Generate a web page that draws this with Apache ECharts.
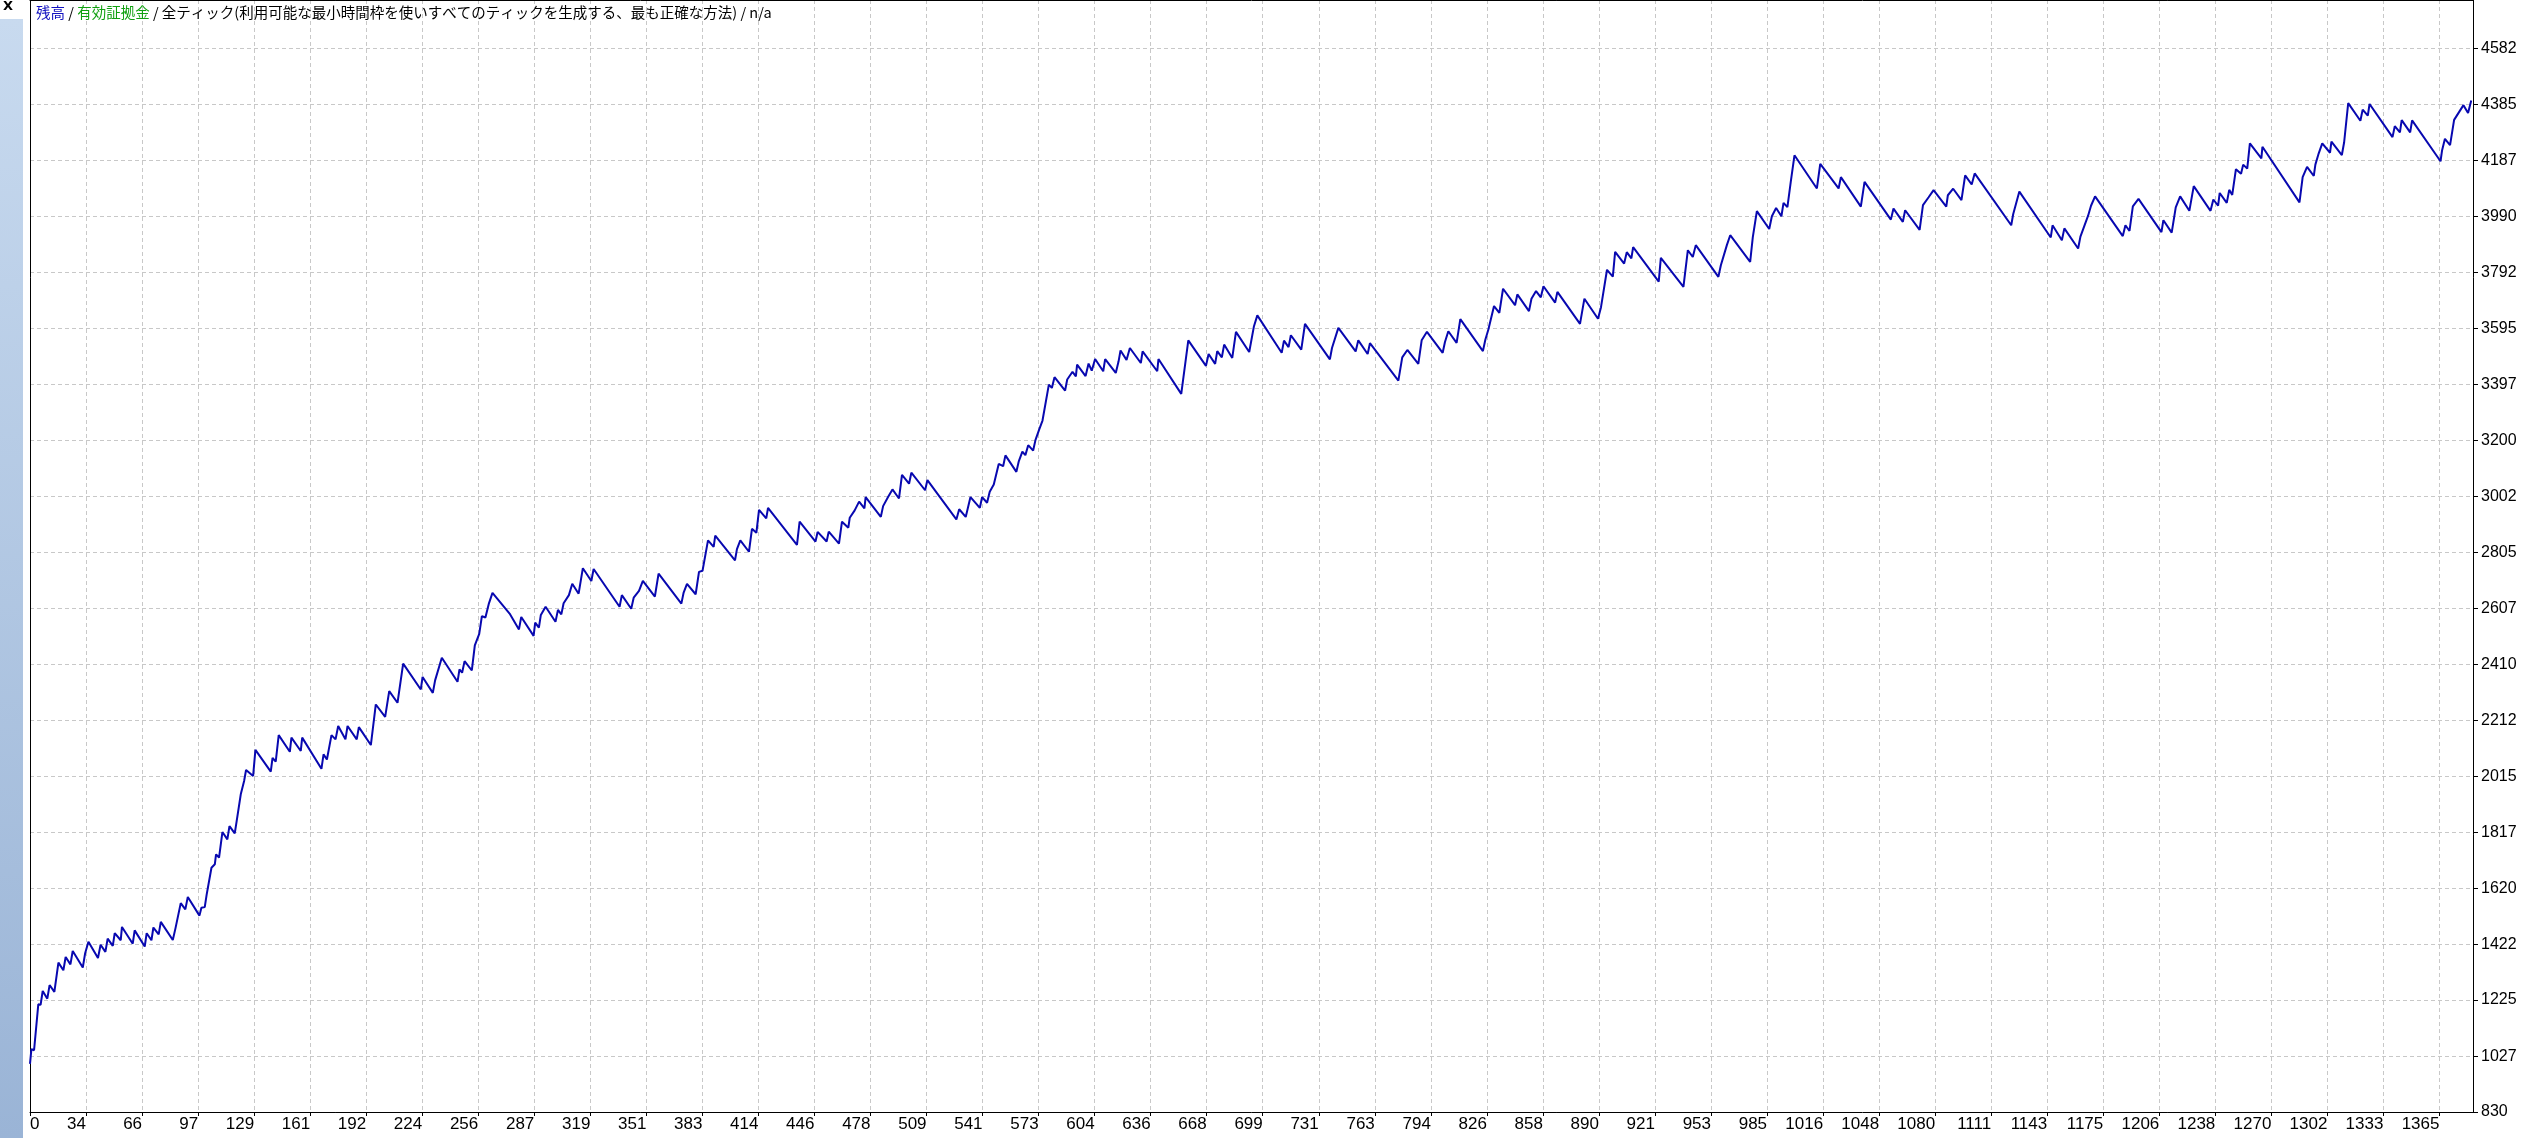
<!DOCTYPE html>
<html>
<head>
<meta charset="utf-8">
<script src="https://cdn.jsdelivr.net/npm/echarts@6/dist/echarts.min.js"></script>
<style>
html,body{margin:0;padding:0;background:#fff;overflow:hidden;}
#c{width:2545px;height:1138px;}
</style>
</head>
<body>
<div id="c"></div>
<script>
// Tick labels
const xTickLabels = [0,34,66,97,129,161,192,224,256,287,319,351,383,414,446,478,509,541,573,604,636,668,699,731,763,794,826,858,890,921,953,985,1016,1048,1080,1111,1143,1175,1206,1238,1270,1302,1333,1365];
const yTickLabels = [830,1027,1225,1422,1620,1817,2015,2212,2410,2607,2805,3002,3200,3397,3595,3792,3990,4187,4385,4582];

// Balance curve vertices (trade number, balance)
const trades = [
0,0.8,2.3,4.7,6.0,7.2,9.8,11.1,13.8,16.1,18.9,20.2,22.9,24.2,29.9,31.2,33.1,38.5,40.0,42.7,44.0,46.9,48.0,51.4,52.1,58.2,59.3,65.0,66.1,68.8,69.9,72.9,74.1,80.9,82.4,83.5,85.4,88.0,89.4,96.0,97.1,99.0,100.1,101.2,102.8,104.7,105.4,107.1,109.0,111.8,113.0,116.0,117.1,119.4,121.3,122.4,126.4,127.7,136.4,137.4,139.2,140.9,147.2,148.1,153.4,154.2,165.1,166.3,168.2,170.8,173.1,174.6,178.7,179.9,185.1,186.3,193.1,195.9,201.2,203.5,208.2,211.4,221.4,222.4,228.2,229.5,233.3,242.2,243.3,244.8,246.2,250.3,252.0,254.5,256.0,258.0,260.0,262.0,
271.7,277.0,278.3,285.3,286.2,288.3,289.4,292.1,297.7,299.1,301.0,302.3,305.3,307.2,310.8,313.2,318.0,319.3,334.0,335.3,340.6,342.0,345.0,347.2,354.0,356.1,369.0,370.3,372.2,377.1,379.0,381.0,384.1,387.3,388.2,399.4,400.5,402.4,407.3,409.0,411.5,413.0,417.1,418.1,434.5,436.0,445.0,446.2,451.3,452.5,458.3,460.0,463.6,464.4,467.2,469.7,472.7,473.4,482.0,483.3,486.1,488.6,492.3,494.0,498.0,499.3,507.1,508.4,524.8,526.4,530.1,532.8,538.1,539.4,542.2,543.7,
546.0,548.8,551.3,552.6,558.8,560.2,562.2,563.9,565.5,568.3,569.6,571.7,573.6,577.2,578.9,580.4,586.4,587.6,590.6,592.5,593.2,598.0,599.7,601.5,603.4,608.0,609.1,615.1,616.7,617.8,621.2,623.1,629.3,630.3,638.6,639.3,652.2,656.2,666.2,667.7,671.4,672.6,675.2,676.5,681.1,683.2,690.7,693.4,695.3,709.1,710.4,713.0,714.3,720.2,722.3,736.4,737.6,741.2,751.0,752.5,757.8,759.1,775.2,777.4,780.3,786.5,788.4,791.4,800.3,801.6,803.5,808.2,810.3,
823.1,824.5,826.2,829.4,832.4,834.5,841.3,842.6,849.2,850.6,853.2,855.9,857.4,864.0,865.3,878.1,880.6,888.3,890.0,893.4,896.7,898.0,903.1,904.6,907.2,908.2,922.7,923.9,936.7,939.2,942.0,943.7,956.5,957.9,961.3,963.2,974.5,976.0,978.3,985.3,986.8,989.2,992.2,993.4,995.6,997.5,999.6,1012.3,1014.2,1024.6,1025.9,1037.2,1039.3,1054.2,1055.7,1061.0,1062.3,1070.5,1072.4,1075.6,1078.4,1085.6,1086.5,
1089.5,1094.2,1096.3,1100.0,1101.7,1122.4,1123.5,1127.0,1144.8,1145.8,1151.1,1152.5,1160.3,1161.6,1165.9,1167.6,1169.9,1185.6,1187.1,1189.4,1191.3,1194.5,1207.5,1208.6,1213.3,1215.6,1218.1,1223.3,1225.8,1235.3,1236.9,1239.6,1240.5,1244.5,1245.9,1247.6,1249.7,1252.6,1253.8,1256.1,1257.6,1264.1,1264.7,1285.7,1287.5,1290.0,1293.8,1294.7,1296.6,1298.6,1303.0,1303.8,1309.7,1311.0,1313.3,1320.2,1321.5,1324.4,1325.4,1338.4,1339.7,1342.6,1343.6,1348.4,1349.5,1365.6,1366.5,1368.1,1371.0,1373.3,1378.6,1381.2,1383.0
];
const balance = [
1000,1052,1048,1210,1208,1257,1230,1278,1254,1357,1330,1377,1351,1398,1340,1389,1431,1373,1420,1395,1442,1416,1461,1436,1483,1424,1471,1414,1461,1436,1481,1457,1501,1437,1478,1480,1567,1545,1589,1523,1551,1553,1598,1600,1692,1704,1739,1728,1818,1792,1839,1813,1857,1951,1998,2037,2016,2108,2031,2080,2066,2160,2101,2151,2104,2151,2041,2092,2074,2160,2145,2192,2145,2192,2145,2188,2125,2268,2224,2315,2274,2412,2321,2365,2309,2353,2433,2348,2392,2380,2421,2388,2477,2517,2580,2575,2625,2662,
2589,2533,2577,2510,2557,2539,2584,2613,2560,2602,2586,2625,2654,2694,2659,2749,2704,2746,2613,2654,2606,2645,2669,2704,2649,2730,2624,2663,2694,2657,2736,2740,2847,2824,2864,2777,2816,2847,2807,2888,2874,2955,2925,2962,2831,2913,2843,2877,2843,2878,2836,2913,2892,2927,2953,2984,2960,3000,2930,2968,3000,3027,2995,3078,3047,3086,3024,3060,2921,2957,2930,3000,2962,3000,2980,3019,
3044,3117,3109,3147,3089,3127,3160,3148,3183,3164,3201,3238,3270,3397,3385,3423,3376,3415,3442,3426,3467,3427,3471,3446,3487,3444,3487,3438,3479,3517,3484,3526,3473,3514,3444,3487,3364,3553,3463,3505,3470,3515,3493,3538,3491,3583,3512,3603,3641,3509,3552,3529,3571,3520,3611,3486,3526,3597,3514,3553,3505,3543,3411,3493,3519,3470,3553,3583,3509,3547,3585,3544,3628,
3515,3556,3591,3674,3650,3735,3677,3715,3656,3700,3727,3705,3744,3686,3724,3611,3700,3629,3670,3802,3778,3865,3824,3864,3842,3882,3760,3844,3742,3871,3847,3889,3777,3818,3889,3924,3830,3917,4009,3946,3991,4020,3991,4038,4023,4112,4206,4089,4176,4089,4129,4025,4112,3979,4018,3971,4012,3943,4030,4058,4083,4025,4065,
4088,4048,4135,4103,4142,3959,3998,4078,3916,3959,3906,3948,3877,3919,3992,4028,4061,3921,3959,3939,4026,4052,3935,3977,3933,4022,4061,4010,4097,4010,4050,4028,4073,4038,4084,4066,4157,4141,4173,4159,4248,4195,4236,4040,4129,4165,4133,4173,4213,4248,4215,4254,4207,4252,4390,4328,4367,4346,4387,4270,4309,4287,4330,4287,4329,4185,4224,4264,4242,4331,4383,4355,4399
];

const titleText = '{b|残高} / {g|有効証拠金} / 全ティック(利用可能な最小時間枠を使いすべてのティックを生成する、最も正確な方法) / n/a';

const X_STEP = 1365 / 43;
const chart = echarts.init(document.getElementById('c'), null, {renderer: 'canvas'});
const data = trades.map((t, i) => [t, balance[i]]);
const gridLine = {show: true, lineStyle: {color: '#c8c8c8', type: [4, 3], width: 1}};
const labelFont = 'Liberation Sans, Arial, sans-serif';

chart.setOption({
  animation: false,
  backgroundColor: '#ffffff',
  title: {
    text: titleText,
    left: 36, top: 5, padding: 0,
    textStyle: {
      fontSize: 14.5, fontWeight: 'normal', color: '#000',
      fontFamily: 'Noto Sans CJK JP',
      rich: {
        b: {color: '#1010c0', fontSize: 14.5, fontFamily: 'Noto Sans CJK JP'},
        g: {color: '#10a010', fontSize: 14.5, fontFamily: 'Noto Sans CJK JP'}
      }
    }
  },
  grid: {left: 30, right: 72, top: 0, bottom: 26, containLabel: false},
  xAxis: [{
    type: 'value', min: 0, max: 1384, interval: X_STEP,
    axisLine: {show: true, onZero: false, lineStyle: {color: '#000', width: 1}},
    axisTick: {show: true, length: 4, lineStyle: {color: '#000'}},
    axisLabel: {
      formatter: function (v) {
        const i = Math.round(v / X_STEP);
        return (i < xTickLabels.length && Math.abs(v - i * X_STEP) < 0.01) ? String(xTickLabels[i]) : '';
      },
      align: 'right', alignMinLabel: 'left', showMaxLabel: false,
      margin: 4, fontFamily: labelFont, fontSize: 17, color: '#000'
    },
    splitLine: gridLine
  }, {
    type: 'value', position: 'top', min: 0, max: 1384,
    axisLine: {show: true, onZero: false, lineStyle: {color: '#000', width: 1}},
    axisTick: {show: false}, axisLabel: {show: false}, splitLine: {show: false}
  }],
  yAxis: [{
    type: 'value', position: 'right', min: 830, max: 4754,
    axisLine: {show: true, onZero: false, lineStyle: {color: '#000', width: 1}},
    axisTick: {show: true, length: 5, customValues: yTickLabels, lineStyle: {color: '#000'}},
    axisLabel: {customValues: yTickLabels, formatter: function (v) { return String(Math.round(v)); },
      margin: 8, fontFamily: labelFont, fontSize: 16, color: '#000'},
    splitLine: gridLine
  }, {
    type: 'value', position: 'left', min: 830, max: 4754,
    axisLine: {show: true, onZero: false, lineStyle: {color: '#000', width: 1}},
    axisTick: {show: false}, axisLabel: {show: false}, splitLine: {show: false}
  }],
  graphic: [
    {type: 'rect', left: 0, top: 19, shape: {width: 23, height: 1119}, silent: true,
     style: {fill: new echarts.graphic.LinearGradient(0, 0, 0, 1, [
       {offset: 0, color: '#c8daef'}, {offset: 1, color: '#9ab4d6'}])}},
    {type: 'text', left: 3, top: 0, silent: true,
     style: {text: 'X', fontSize: 13, fontWeight: 'bold', fontFamily: 'DejaVu Sans', fill: '#000'}}
  ],
  series: [{
    type: 'line', name: '残高', data: data, xAxisIndex: 0, yAxisIndex: 0,
    showSymbol: false, symbol: 'none',
    lineStyle: {color: '#0808b0', width: 2},
    z: 5
  }]
});
</script>
</body>
</html>
